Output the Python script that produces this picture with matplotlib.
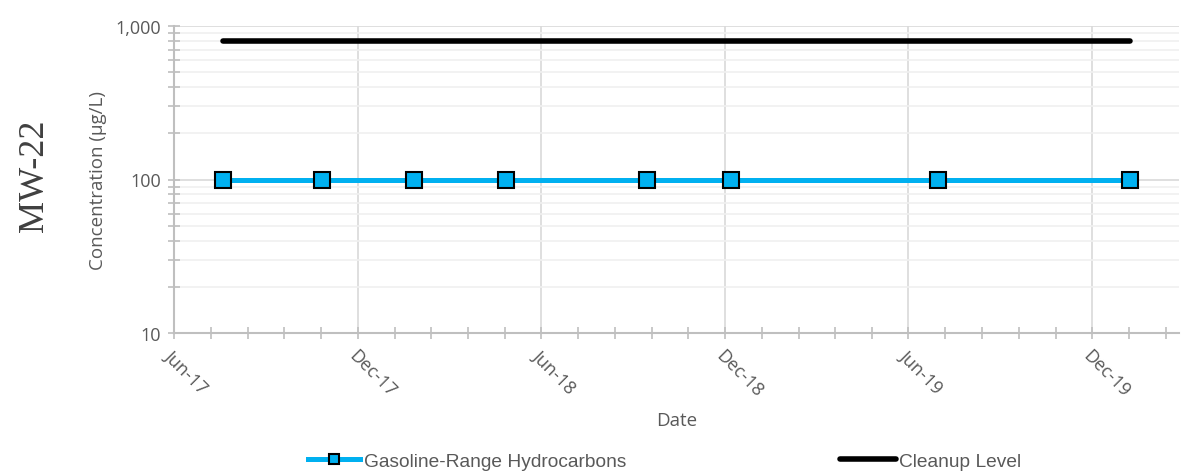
import matplotlib
matplotlib.use("Agg")
import matplotlib.pyplot as plt
import matplotlib.dates as mdates
from matplotlib.ticker import FixedLocator, FuncFormatter, NullFormatter
import numpy as np
import datetime as dt

# data
sample_dates = ["2017-07-20", "2017-10-26", "2018-01-26", "2018-04-27",
                "2018-09-14", "2018-12-07", "2019-06-30", "2020-01-07"]
gro_values = [100, 100, 100, 100, 100, 100, 100, 100]
cleanup_level = 800
well_name = "MW-22"

major_dates = ["2017-06-01", "2017-12-01", "2018-06-01",
               "2018-12-01", "2019-06-01", "2019-12-01"]
major_labels = ["Jun-17", "Dec-17", "Jun-18", "Dec-18", "Jun-19", "Dec-19"]

# conversions
x = mdates.date2num([dt.datetime.strptime(d, "%Y-%m-%d") for d in sample_dates])
majors = mdates.date2num([dt.datetime.strptime(d, "%Y-%m-%d") for d in major_dates])
x_start = majors[0]
x_end = mdates.date2num(dt.datetime(2020, 2, 25))

minors = []
for a, b in zip(majors[:-1], majors[1:]):
    minors.extend(np.linspace(a, b, 6)[1:-1])
step = (majors[-1] - majors[-2]) / 5
minors.extend([majors[-1] + step, majors[-1] + 2 * step])

grey_txt = "#595959"
plt.rcParams['font.family'] = ['Open Sans', 'DejaVu Sans']

fig = plt.figure(figsize=(11.92, 4.77), dpi=100)
ax = fig.add_axes([174 / 1192, 1 - 334 / 477, (1179 - 174) / 1192, (334 - 27) / 477])

# plotting stuff
l_clean, = ax.plot([x[0], x[-1]], [cleanup_level, cleanup_level], color="black", lw=4,
                   solid_capstyle="round", label="Cleanup Level", zorder=3)
l_gro, = ax.plot(x, gro_values, color="#00B0F0", lw=3.6, marker="s", markersize=12,
                 markerfacecolor="#00B0F0", markeredgecolor="black", markeredgewidth=1.5,
                 label="Gasoline-Range Hydrocarbons", zorder=4)

ax.set_yscale("log")
ax.set_ylim(10, 1000)
ax.set_xlim(x_start, x_end)

ax.yaxis.set_major_locator(FixedLocator([10, 100, 1000]))
ax.yaxis.set_major_formatter(FuncFormatter(lambda v, p: f"{int(v):,}"))
ax.yaxis.set_minor_locator(FixedLocator([m * 10 ** e for e in (1, 2) for m in range(2, 10)]))
ax.yaxis.set_minor_formatter(NullFormatter())

ax.xaxis.set_major_locator(FixedLocator(majors))
ax.xaxis.set_minor_locator(FixedLocator(minors))
ax.set_xticklabels(major_labels, rotation=-45, ha="left", va="top", rotation_mode="anchor")

ax.grid(which="major", color="#D9D9D9", lw=1.2)
ax.grid(which="minor", axis="y", color="#F0F0F0", lw=1.2)
ax.set_axisbelow(True)

for s in ["top", "right"]:
    ax.spines[s].set_visible(False)
for s in ["left", "bottom"]:
    ax.spines[s].set_color("#BFBFBF")
    ax.spines[s].set_linewidth(1.5)

ax.tick_params(which="both", direction="inout", color="#BFBFBF", width=1.2,
               labelcolor=grey_txt, labelsize=13)
ax.tick_params(which="major", length=9)
ax.tick_params(which="minor", length=8)
ax.tick_params(axis="x", pad=5)
ax.tick_params(axis="y", pad=5)

ax.set_xlabel("Date", color=grey_txt, fontsize=13.5, labelpad=8)
ax.set_ylabel("Concentration (\u00b5g/L)", color=grey_txt, fontsize=13.5, labelpad=6)

fig.text(35 / 1192, 1 - 176 / 477, well_name, rotation=90, ha="center", va="center",
         fontsize=26, color="#404040", family=["Liberation Serif", "DejaVu Serif"])

# legend, two pieces placed like the original
leg_kw = dict(loc="center left", frameon=False, borderaxespad=0, borderpad=0,
              prop={"family": "Liberation Sans", "size": 13.8}, handletextpad=0.2,
              markerscale=0.65)
leg1 = fig.legend([l_gro], [l_gro.get_label()], bbox_to_anchor=(308 / 1192, 1 - 462 / 477),
                  handlelength=2.7, **leg_kw)
leg2 = fig.legend([l_clean], [l_clean.get_label()], bbox_to_anchor=(840 / 1192, 1 - 462 / 477),
                  handlelength=2.9, **leg_kw)
for leg in (leg1, leg2):
    for t in leg.get_texts():
        t.set_color(grey_txt)

fig.savefig("out.png", dpi=100)
